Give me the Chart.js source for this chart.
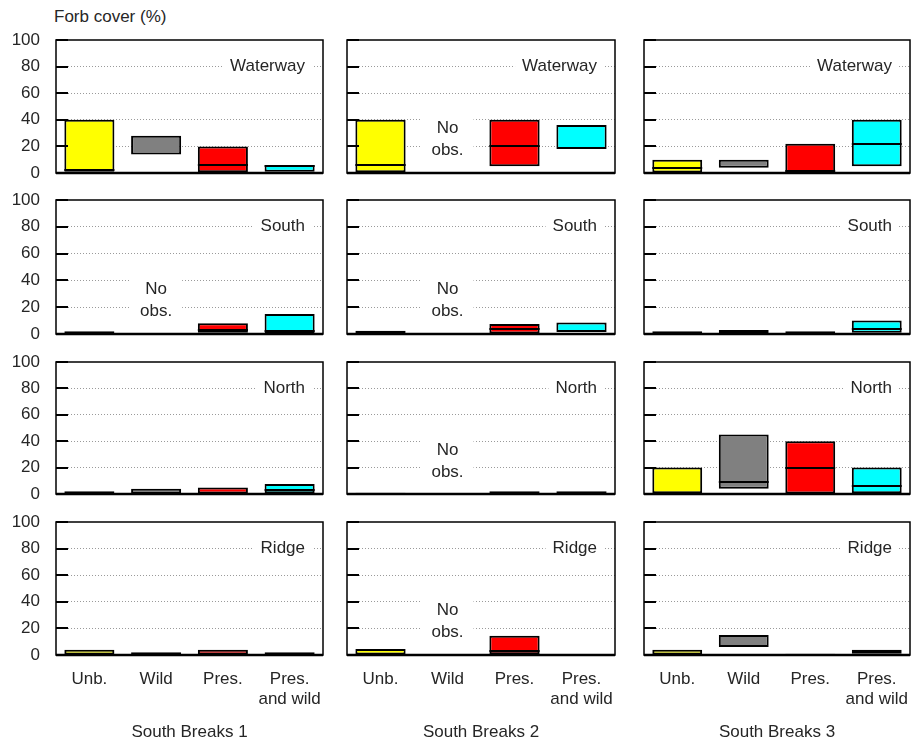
<!DOCTYPE html>
<html>
<head>
<meta charset="utf-8">
<script src="https://cdn.jsdelivr.net/npm/chart.js@4/dist/chart.umd.min.js"></script>
<style>
  body { margin: 0; background: #fff; width: 912px; height: 743px; overflow: hidden; position: relative; font-family: 'Liberation Sans', Arial, sans-serif; }
  .panel { position: absolute; }
  #ytitle { position: absolute; left: 54px; top: 7px; font-size: 17px; color: #262626; }
</style>
</head>
<body>
<div id="ytitle">Forb cover (%)</div>
<script>
const categories = ['Unb.', 'Wild', 'Pres.', ['Pres.', 'and wild']];
const sites = ['South Breaks 1', 'South Breaks 2', 'South Breaks 3'];
const aspects = ['Waterway', 'South', 'North', 'Ridge'];
const yTicks = [0, 20, 40, 60, 80, 100];
const barColors = ['#ffff00', '#808080', '#ff0000', '#00ffff'];

// one row per site (SB1, SB2, SB3), one value per category; null = no obs.
const waterwayMin = [[1, 14, 0.5, 1], [0.5, null, 5, 18], [0, 4, 0, 5]];
const waterwayMed = [[2, null, 6, 5], [6, null, 20, null], [3.5, null, 1.5, 22]];
const waterwayMax = [[40, 28, 20, 6], [40, null, 40, 36], [10, 10, 22, 40]];

const southMin = [[0, null, 1, 0.5], [0, null, 0, 1.5], [0, 0, 0, 1]];
const southMed = [[null, null, 3, 2.5], [null, null, 4, null], [null, null, null, 3.5]];
const southMax = [[2, null, 8, 15], [2.5, null, 7.5, 8.5], [2, 3, 2, 10]];

const northMin = [[0, 0, 0, 0.5], [0, null, 0, 0], [0.5, 4, 0, 0.5]];
const northMed = [[null, null, null, 3], [null, null, null, null], [null, 9, 20, 6]];
const northMax = [[2, 4, 5, 7.5], [1, null, 2, 2], [20, 45, 40, 20]];

const ridgeMin = [[0, 0, 0, 0], [0, null, 0.5, 0], [0, 6, 0, 1]];
const ridgeMed = [[null, null, null, null], [null, null, 3, null], [null, null, null, null]];
const ridgeMax = [[4, 2, 4, 2], [4.5, null, 14.5, 0], [4, 15, 1, 4]];

const minRows = [waterwayMin, southMin, northMin, ridgeMin];
const medRows = [waterwayMed, southMed, northMed, ridgeMed];
const maxRows = [waterwayMax, southMax, northMax, ridgeMax];

// layout of the plot areas
const colLeft = [56, 347, 644];
const colWidth = [267, 268, 266];
const rowTop = [40, 200, 362, 522];
const rowHeight = [133, 134, 132, 133];
// tick padding (16) + half a label (~10) is reserved above and below by Chart.js
const AXIS_W = 56, PAD = 28;
const FONT = "'Liberation Sans', Arial, sans-serif";
const TEXT = '#262626';

// medians, panel label, "No obs." text and frame
const panelPlugin = {
  id: 'panelExtras',
  afterDatasetsDraw(chart, args, opts) {
    const ctx = chart.ctx;
    const meta = chart.getDatasetMeta(0);
    const y = chart.scales.y;
    ctx.save();
    ctx.strokeStyle = '#000';
    ctx.lineWidth = 2;
    opts.medians.forEach((m, i) => {
      if (m == null || opts.mins[i] == null) return;
      const bar = meta.data[i].getProps(['x', 'width'], true);
      const py = Math.round(y.getPixelForValue(m));
      ctx.beginPath();
      ctx.moveTo(bar.x - bar.width / 2, py);
      ctx.lineTo(bar.x + bar.width / 2, py);
      ctx.stroke();
    });
    ctx.restore();
  },
  afterDraw(chart, args, opts) {
    const ctx = chart.ctx;
    const area = chart.chartArea;
    const x = chart.scales.x;
    const y = chart.scales.y;
    ctx.save();
    ctx.font = '17px ' + FONT;
    ctx.textBaseline = 'middle';

    // "No obs." where a category has no data
    opts.mins.forEach((m, i) => {
      if (m != null) return;
      const cx = x.getPixelForValue(i);
      const cy = y.getPixelForValue(25);
      ctx.fillStyle = '#fff';
      ctx.fillRect(cx - 26, y.getPixelForValue(45), 52, y.getPixelForValue(10) - y.getPixelForValue(45));
      ctx.fillStyle = TEXT;
      ctx.textAlign = 'center';
      ctx.fillText('No', cx, cy - 11);
      ctx.fillText('obs.', cx, cy + 11);
    });

    // aspect label on the 80 line
    const w = ctx.measureText(opts.label).width;
    const lx = area.right - 18;
    const ly = y.getPixelForValue(80);
    ctx.fillStyle = '#fff';
    ctx.fillRect(lx - w - 7, ly - 10, w + 14, 20);
    ctx.fillStyle = TEXT;
    ctx.textAlign = 'right';
    ctx.fillText(opts.label, lx, ly);

    // inward ticks and frame
    ctx.strokeStyle = '#000';
    ctx.lineWidth = 2;
    yTicks.forEach(v => {
      const py = Math.round(y.getPixelForValue(v));
      ctx.beginPath();
      ctx.moveTo(area.left, py);
      ctx.lineTo(area.left + 12, py);
      ctx.stroke();
    });
    ctx.lineWidth = 1.5;
    ctx.strokeRect(area.left, area.top, area.right - area.left, area.bottom - area.top);
    ctx.lineWidth = 2.5;
    ctx.beginPath();
    ctx.moveTo(area.left, area.bottom);
    ctx.lineTo(area.right, area.bottom);
    ctx.stroke();
    ctx.restore();
  }
};

for (let r = 0; r < aspects.length; r++) {
  for (let c = 0; c < sites.length; c++) {
    const last = r === aspects.length - 1;
    const xAxisH = last ? 743 - (rowTop[r] + rowHeight[r]) : PAD;
    const div = document.createElement('div');
    div.className = 'panel';
    div.style.left = (colLeft[c] - AXIS_W) + 'px';
    div.style.top = (rowTop[r] - PAD) + 'px';
    div.style.width = (AXIS_W + colWidth[c] + 2) + 'px';
    div.style.height = (PAD + rowHeight[r] + xAxisH) + 'px';
    const canvas = document.createElement('canvas');
    div.appendChild(canvas);
    document.body.appendChild(div);

    const mins = minRows[r][c];
    const meds = medRows[r][c];
    const maxs = maxRows[r][c];

    new Chart(canvas.getContext('2d'), {
      type: 'bar',
      data: {
        labels: categories,
        datasets: [{
          data: mins.map((m, i) => m == null ? null : [m, maxs[i]]),
          backgroundColor: barColors,
          borderColor: '#000',
          borderWidth: 2,
          borderSkipped: false,
          barPercentage: 0.75,
          categoryPercentage: 1
        }]
      },
      options: {
        responsive: true,
        maintainAspectRatio: false,
        animation: false,
        layout: { padding: { top: PAD, right: 2, left: 0, bottom: 0 } },
        scales: {
          x: {
            // invisible tick marks give the gap under the frame
            grid: { display: true, drawOnChartArea: false, drawTicks: true, tickLength: 13, color: 'rgba(0,0,0,0)' },
            border: { display: false },
            ticks: {
              display: last,
              padding: 1,
              color: TEXT,
              maxRotation: 0,
              font: { family: FONT, size: 17, lineHeight: 1.2 }
            },
            title: {
              display: last,
              text: sites[c],
              color: TEXT,
              padding: { top: 0, bottom: 0 },
              font: { family: FONT, size: 17 }
            },
            afterFit: scale => { scale.height = xAxisH; }
          },
          y: {
            min: 0,
            max: 100,
            afterBuildTicks: scale => { scale.ticks = yTicks.map(v => ({ value: v })); },
            afterFit: scale => { scale.width = AXIS_W; },
            grid: {
              drawTicks: false,
              color: ctx => (ctx.tick && (ctx.tick.value === 0 || ctx.tick.value === 100)) ? 'rgba(0,0,0,0)' : '#9a9a9a',
              lineWidth: 1
            },
            border: { display: false, dash: [1, 2] },
            ticks: {
              display: c === 0,
              padding: 16,
              color: TEXT,
              font: { family: FONT, size: 17 }
            }
          }
        },
        plugins: {
          legend: { display: false },
          tooltip: { enabled: false },
          panelExtras: { medians: meds, mins: mins, label: aspects[r] }
        }
      },
      plugins: [panelPlugin]
    });
  }
}
</script>
</body>
</html>
